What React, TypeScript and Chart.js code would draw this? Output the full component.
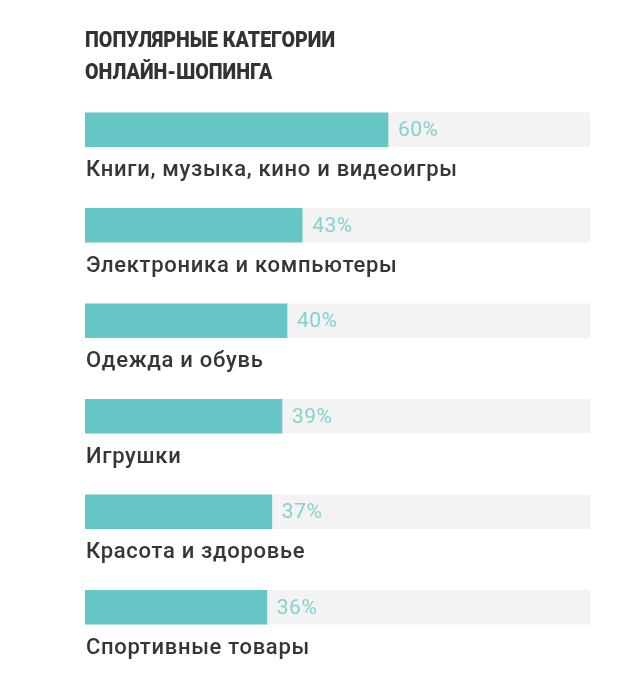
import React, { useEffect, useRef } from "react";
import { Chart, registerables } from "chart.js";

Chart.register(...registerables);

const titleLines = ["ПОПУЛЯРНЫЕ КАТЕГОРИИ", "ОНЛАЙН-ШОПИНГА"];
const categories = [
  "Книги, музыка, кино и видеоигры",
  "Электроника и компьютеры",
  "Одежда и обувь",
  "Игрушки",
  "Красота и здоровье",
  "Спортивные товары",
];
const shares = [60, 43, 40, 39, 37, 36];
const trackValues = [100, 100, 100, 100, 100, 100];

const TEAL = "#66c5c5";
const TEAL_TEXT = "#85d0d0";
const TRACK = "#f3f3f3";
const LABEL = "#363636";
const TITLE_WIDTH = 250;

const labelPlugin = {
  id: "barLabels",
  afterDatasetsDraw(chart: any) {
    const ctx = chart.ctx;
    const meta = chart.getDatasetMeta(0);
    ctx.save();
    meta.data.forEach((el: any, i: number) => {
      const { x, y, height } = el.getProps(["x", "y", "height"], true);
      ctx.letterSpacing = "0.5px";
      ctx.fillStyle = TEAL_TEXT;
      ctx.font = "400 21px Roboto";
      ctx.textBaseline = "middle";
      ctx.textAlign = "left";
      ctx.fillText(shares[i] + "%", x + 10, y + 1);
      ctx.letterSpacing = "0.7px";
      ctx.fillStyle = LABEL;
      ctx.font = "500 22px Roboto";
      ctx.fillText(categories[i], chart.chartArea.left + 1, y + height / 2 + 24);
    });
    ctx.restore();
  },
  beforeDraw(chart: any) {
    const ctx = chart.ctx;
    ctx.save();
    ctx.fillStyle = "#333333";
    ctx.font = "900 22px Roboto";
    ctx.textBaseline = "middle";
    ctx.textAlign = "left";
    const sx = TITLE_WIDTH / ctx.measureText(titleLines[0]).width;
    ctx.translate(chart.chartArea.left, 0);
    ctx.scale(sx, 1);
    titleLines.forEach((t, i) => {
      ctx.fillText(t, 0, 33 + i * 32.5);
    });
    ctx.restore();
  },
};

export default function App() {
  const ref = useRef<HTMLCanvasElement>(null);
  useEffect(() => {
    const chart = new Chart(ref.current!, {
      type: "bar",
      data: {
        labels: categories,
        datasets: [
          { data: shares, backgroundColor: TEAL, barThickness: 34, grouped: false, order: 0 } as any,
          { data: trackValues, backgroundColor: TRACK, barThickness: 34, grouped: false, order: 1 } as any,
        ],
      },
      options: {
        indexAxis: "y",
        animation: false,
        responsive: false,
        layout: { padding: { left: 77, right: 22, top: 74, bottom: 16 } },
        plugins: { legend: { display: false }, tooltip: { enabled: false }, title: { display: false } },
        scales: {
          x: { min: 0, max: 100, display: false },
          y: { display: false },
        },
      },
      plugins: [labelPlugin],
    });
    return () => chart.destroy();
  }, []);
  return (
    <div style={{ width: 604, height: 663 }}>
      <canvas ref={ref} width={604} height={663} />
    </div>
  );
}
